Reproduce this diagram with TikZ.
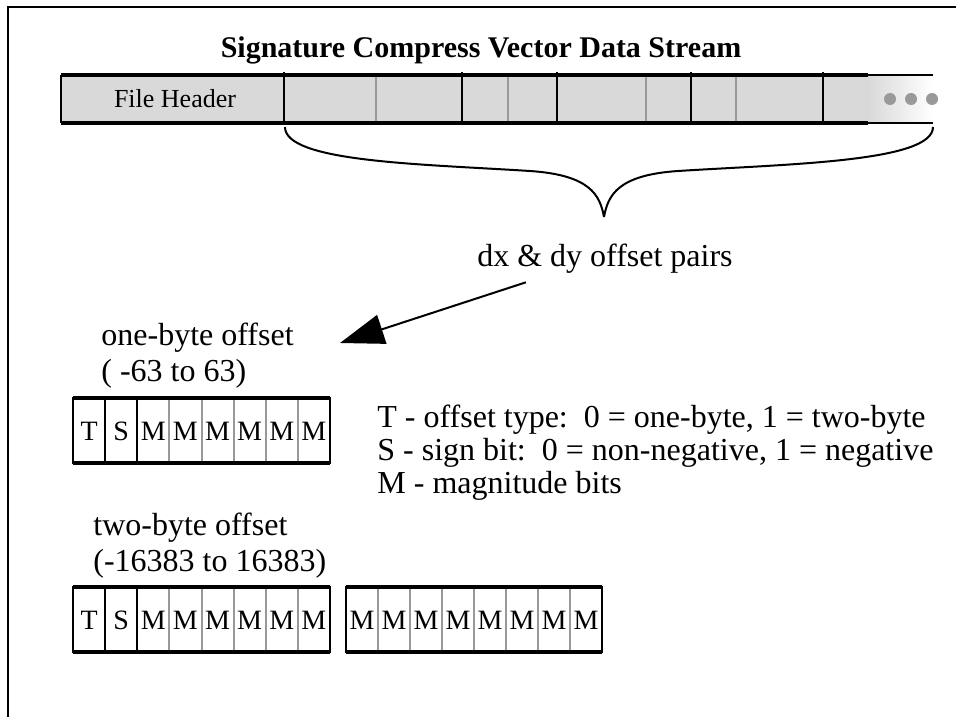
\documentclass[tikz,border=0pt]{standalone}
\usepackage{fontspec}
\setmainfont{Liberation Serif}
\usetikzlibrary{arrows.meta,calc}

\begin{document}
\begin{tikzpicture}[x=0.5pt,y=-0.5pt,
  lbl/.style={inner sep=0pt,font=\fontsize{16}{19}\selectfont},
  bit/.style={inner sep=0pt,font=\fontsize{14}{16}\selectfont},
  blk/.style={line width=1pt,black},
  gry/.style={line width=1pt,black!40},
  edge/.style={line width=1.6pt,black}]
  \useasboundingbox (0,0) rectangle (956,717);
  % frame
  \draw[line width=1.3pt] (8,717) -- (8,7) -- (956,7);
  % title
  \node[font=\bfseries\fontsize{15}{18}\selectfont,anchor=base] (title) at (481,58) {Signature Compress Vector Data Stream};
  % stream bar
  \fill[black!15] (61,75) rectangle (868,123);
  \shade[left color=black!15,right color=white] (868,75) rectangle (933,123);
  \foreach \x in {376,508,646,736} \draw[gry] (\x,75) -- (\x,123);
  \foreach \x in {284,462,557,691,823} \draw[blk] (\x,72) -- (\x,124);
  \draw[blk] (61,75) -- (61,123);
  \draw[edge] (61,75) -- (868,75) (61,123) -- (868,123);
  \draw[line width=0.8pt] (868,75) -- (933,75) (868,123) -- (933,123);
  \foreach \x in {890,911,932} \fill[black!40] (\x,99) circle[radius=3pt];
  \node[font=\fontsize{13}{15}\selectfont] (hdr) at (175,99) {File Header};
  % brace
  \coordinate (bl) at (285,127);
  \coordinate (br) at (933,127);
  \coordinate (tipb) at (604,217);
  \draw[line width=1pt] (bl) .. controls (285,162) and (420,164) .. (530,171) .. controls (590,175) and (600,195) .. (tipb);
  \draw[line width=1pt] (br) .. controls (933,162) and (788,164) .. (678,171) .. controls (618,175) and (608,195) .. (tipb);
  \node[lbl,anchor=base] (pairs) at (605,266) {dx \& dy offset pairs};
  \coordinate (onept) at (340,343);
  \draw[line width=1pt,-{Triangle[length=22pt,width=15pt]}] ($(pairs.south west)+(49,9)$) -- (onept);
  % labels
  \node[lbl,anchor=base west] (one) at (101,345) {one-byte offset};
  \node[lbl,anchor=base west] (onerange) at (101,381) {( -63 to 63)};
  \node[lbl,anchor=base west] (two) at (93,535) {two-byte offset};
  \node[lbl,anchor=base west] (tworange) at (93,571) {(-16383 to 16383)};
  \node[lbl,anchor=base west] (keyT) at (377,427) {T - offset type:\ \ 0 = one-byte, 1 = two-byte};
  \node[lbl,anchor=base west] (keyS) at (377,460) {S - sign bit:\ \ 0 = non-negative, 1 = negative};
  \node[lbl,anchor=base west] (keyM) at (377,493) {M - magnitude bits};
  % first byte of each offset
  \foreach \y/\n in {398/o,587/t} {
    \foreach \k in {3,...,7} \draw[gry] (73+32.125*\k,\y) -- +(0,65);
    \draw[blk] (105.125,\y-2) -- (105.125,\y+65) (137.25,\y-2) -- (137.25,\y+65);
    \draw[blk] (73,\y) rectangle (330,\y+65);
    \draw[edge] (73,\y) -- (330,\y) (73,\y+65) -- (330,\y+65);
    \foreach \l [count=\i from 0] in {T,S,M,M,M,M,M,M}
      \node[bit] (\n\i) at (89.06+32.125*\i,\y+33) {\l};
  }
  % second byte
  \foreach \k in {1,...,7} \draw[gry] (346+32*\k,587) -- +(0,65);
  \draw[blk] (346,587) rectangle (602,652);
  \draw[edge] (346,587) -- (602,587) (346,652) -- (602,652);
  \foreach \i in {0,...,7} \node[bit] (u\i) at (362+32*\i,620) {M};
\end{tikzpicture}
\end{document}
